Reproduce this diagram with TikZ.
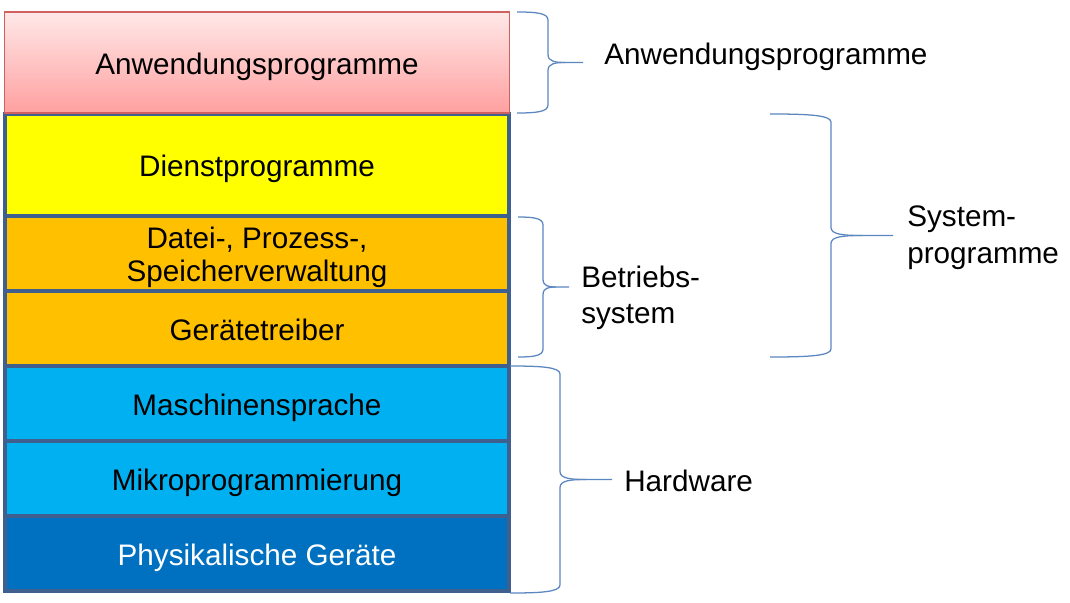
\documentclass[tikz,border=0pt]{standalone}
\usepackage{fontspec}
\setmainfont{Liberation Sans}
\usepackage{xcolor}
\usepackage{tikz}
\usetikzlibrary{positioning}

\definecolor{layerline}{HTML}{3F5F8E}
\definecolor{bracecol}{HTML}{5B86C0}
\definecolor{apptop}{HTML}{FFE8E8}
\definecolor{appbot}{HTML}{FFA0A0}
\definecolor{appline}{HTML}{D06060}
\definecolor{dienstcol}{HTML}{FFFF00}
\definecolor{oscol}{HTML}{FFC000}
\definecolor{hwcol}{HTML}{00B0F0}
\definecolor{physcol}{HTML}{0070C0}

\begin{document}
\begin{tikzpicture}[
  x=0.025cm, y=-0.025cm,
  every node/.style={font=\fontsize{21.1}{24}\selectfont},
  layer/.style={draw=layerline, line width=2.3pt, minimum width=12.6cm, inner sep=0pt, align=center,
                text height=21pt, text depth=4.5pt},
  tall/.style={minimum height=2.55cm},
  flat/.style={minimum height=1.875cm},
  lbl/.style={anchor=west, inner sep=0pt, align=left, font=\fontsize{21.1}{26}\selectfont},
  brace/.style={draw=bracecol, line width=0.9pt}
]
  \useasboundingbox (0,0) rectangle (1070,603);
  % layers
  \node (dienst) at (257,165)   [layer, tall, fill=dienstcol] {Dienstprogramme};
  \node (datei) at (257,253.5)  [layer, flat, fill=oscol, text height=, text depth=,
                                 font=\fontsize{21.1}{23.5}\selectfont] {\rule{0pt}{21pt}Datei-, Prozess-,\\Speicherverwaltung};
  \node (treiber) at (257,328.5) [layer, flat, fill=oscol] {Gerätetreiber};
  \node (masch) at (257,403.5)  [layer, flat, fill=hwcol] {Maschinensprache};
  \node (mikro) at (257,478.5)  [layer, flat, fill=hwcol] {Mikroprogrammierung};
  \node (phys) at (257,553.5)   [layer, flat, fill=physcol, text=white] {Physikalische Geräte};
  \node (anw) at (257,62.5)     [layer, minimum height=2.525cm, draw=appline, line width=0.8pt,
                                 top color=apptop, bottom color=appbot] {Anwendungsprogramme};
  % braces: start x / spine x / tip x / top / middle / bottom
  \foreach \xa/\xs/\xt/\ya/\ym/\yb in {517/548/583/12/62.5/113, 518/543/569/217/287/357,
                                       510/560/612/366/479.5/593, 770/831/893/114/235.5/357} {
    \draw[brace] (\xa,\ya) .. controls ({\xa+0.6*(\xs-\xa)},\ya) and (\xs,{\ya+1}) .. (\xs,{\ya+8})
      -- (\xs,{\ym-8}) .. controls (\xs,{\ym-1}) and ({\xs+0.2*(\xt-\xs)},\ym) .. ({\xs+0.5*(\xt-\xs)},\ym) -- (\xt,\ym);
    \draw[brace] (\xa,\yb) .. controls ({\xa+0.6*(\xs-\xa)},\yb) and (\xs,{\yb-1}) .. (\xs,{\yb-8})
      -- (\xs,{\ym+8}) .. controls (\xs,{\ym+1}) and ({\xs+0.2*(\xt-\xs)},\ym) .. ({\xs+0.5*(\xt-\xs)},\ym);
  }
  % labels
  \node (lblanw) at (604,57)  [lbl] {Anwendungsprogramme};
  \node (lblbs) at (581,298)  [lbl] {Betriebs-\\system};
  \node (lblsys) at (907,238) [lbl] {System-\\programme};
  \node (lblhw) at (624,481)  [lbl] {Hardware};
\end{tikzpicture}
\end{document}
